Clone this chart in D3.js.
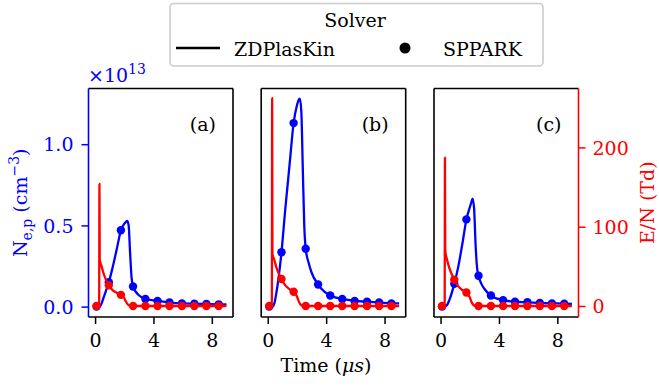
<!DOCTYPE html>
<html>
<head>
<meta charset="utf-8">
<script src="https://cdn.jsdelivr.net/npm/d3@7"></script>
<style>
  html, body { margin: 0; padding: 0; background: #fff; }
  svg { display: block; }
  svg text { font-family: "DejaVu Serif", serif; }
</style>
</head>
<body>
<svg id="chart" width="659" height="388"></svg>
<script>
// ---------------- data ----------------
const panelLabels = ["(a)", "(b)", "(c)"];
const xTicks = [0, 4, 8];
const neTicks = [0.0, 0.5, 1.0];
const enTicks = [0, 100, 200];

// time grid of the ZDPlasKin curves (µs)
const lineTime = [0, 0.25, 0.28, 0.3, 0.32, 0.45, 0.6, 0.94, 1.2, 1.5, 1.77, 2.0, 2.1, 2.2, 2.3, 2.4, 2.5, 2.6, 2.8, 3.0, 3.45, 4.28, 5.1, 5.95, 6.8, 7.63, 8.47, 9.0];
// electron density (x1e13 cm^-3), ZDPlasKin
const neLineA = [0, 0, 0, 0, 0, 0.02, 0.06, 0.15, 0.24, 0.36, 0.47, 0.51, 0.52, 0.527, 0.5, 0.33, 0.18, 0.124, 0.09, 0.07, 0.047, 0.035, 0.025, 0.02, 0.018, 0.016, 0.014, 0.013];
const neLineB = [0, 0, 0, 0, 0, 0.02, 0.09, 0.335, 0.6, 0.88, 1.13, 1.24, 1.27, 1.28, 1.2, 0.85, 0.5, 0.356, 0.27, 0.21, 0.136, 0.068, 0.047, 0.035, 0.03, 0.025, 0.02, 0.02];
const neLineC = [0, 0, 0, 0, 0, 0.01, 0.04, 0.14, 0.24, 0.39, 0.537, 0.61, 0.64, 0.665, 0.6, 0.38, 0.24, 0.19, 0.14, 0.11, 0.068, 0.04, 0.03, 0.027, 0.022, 0.02, 0.018, 0.016];
// reduced field E/N (Td), ZDPlasKin
const enLineA = [0, 0, 0, 154, 58, 50, 40, 26, 20, 16.5, 14, 10, 6, 3, 1, 0, 0, 0, 0, 0, 0, 0, 0, 0, 0, 0, 0, 0];
const enLineB = [0, 0, 0, 262, 66, 58, 48, 34, 26, 21, 18, 12, 7, 3, 1, 0, 0, 0, 0, 0, 0, 0, 0, 0, 0, 0, 0, 0];
const enLineC = [0, 0, 0, 187, 70, 58, 48, 33, 25, 20, 17, 11, 6, 2.5, 0.5, 0, 0, 0, 0, 0, 0, 0, 0, 0, 0, 0, 0, 0];

// SPPARK samples
const markerTime = [0.1, 0.94, 1.77, 2.6, 3.45, 4.28, 5.1, 5.95, 6.8, 7.63, 8.47];
const neDotsA = [0, 0.15, 0.47, 0.124, 0.047, 0.035, 0.025, 0.02, 0.018, 0.016, 0.014];
const neDotsB = [0, 0.335, 1.13, 0.356, 0.136, 0.068, 0.047, 0.035, 0.03, 0.025, 0.02];
const neDotsC = [0, 0.14, 0.537, 0.19, 0.068, 0.04, 0.03, 0.027, 0.022, 0.02, 0.018];
const enDotsA = [0, 26, 14, 0, 0, 0, 0, 0, 0, 0, 0];
const enDotsB = [0, 34, 18, 0, 0, 0, 0, 0, 0, 0, 0];
const enDotsC = [0, 33, 17, 0, 0, 0, 0, 0, 0, 0, 0];

const neLines = [neLineA, neLineB, neLineC];
const enLines = [enLineA, enLineB, enLineC];
const neDots = [neDotsA, neDotsB, neDotsC];
const enDots = [enDotsA, enDotsB, enDotsC];

// ---------------- layout ----------------
const BLUE = "#0000ff", RED = "#ff0000";
const FONT = 19;
const FF = "'DejaVu Serif', serif";
const svg = d3.select("#chart");
const yTop = 88.5, yBot = 317;
const panelLeft = [88.5, 261.2, 434];
const panelW = 144.5;

const yNe = d3.scaleLinear().domain([-0.064, 1.343]).range([yBot, yTop]);
const yEn = d3.scaleLinear().domain([-13.9, 274.3]).range([yBot, yTop]);

function styleAxis(g, color) {
  g.attr("font-family", FF).attr("font-size", FONT);
  g.select(".domain").remove();
  g.selectAll(".tick line").attr("stroke", color).attr("stroke-width", 1.5);
  g.selectAll(".tick text").attr("fill", color).style("font-family", FF).style("font-size", FONT + "px");
}

panelLabels.forEach((lab, i) => {
  const x = d3.scaleLinear().domain([-0.45, 9.45]).range([panelLeft[i], panelLeft[i] + panelW]);
  const g = svg.append("g");

  // bottom axis
  const gx = g.append("g").attr("transform", `translate(0,${yBot})`)
    .call(d3.axisBottom(x).tickValues(xTicks).tickFormat(d3.format("d")).tickSize(7).tickPadding(9));
  styleAxis(gx, "#000");
  gx.selectAll(".tick text").attr("dy", "0.75em");

  const clipId = "clip" + i;
  svg.append("clipPath").attr("id", clipId).append("rect")
    .attr("x", panelLeft[i]).attr("y", yTop).attr("width", panelW).attr("height", yBot - yTop);
  const plot = g.append("g").attr("clip-path", `url(#${clipId})`);

  // Ne line + markers
  const neLine = d3.line().x((d, k) => x(lineTime[k])).y(d => yNe(d)).curve(d3.curveMonotoneX);
  plot.append("path").datum(neLines[i]).attr("d", neLine)
    .attr("fill", "none").attr("stroke", BLUE).attr("stroke-width", 2.3).attr("stroke-linejoin", "round");
  plot.selectAll(".nd").data(neDots[i]).join("circle")
    .attr("cx", (d, k) => x(markerTime[k])).attr("cy", d => yNe(d)).attr("r", 4.2).attr("fill", BLUE);

  // E/N line + markers
  const enLine = d3.line().x((d, k) => x(lineTime[k])).y(d => yEn(d)).curve(d3.curveMonotoneX);
  plot.append("path").datum(enLines[i]).attr("d", enLine)
    .attr("fill", "none").attr("stroke", RED).attr("stroke-width", 2.3).attr("stroke-linejoin", "round");
  plot.selectAll(".ed").data(enDots[i]).join("circle")
    .attr("cx", (d, k) => x(markerTime[k])).attr("cy", d => yEn(d)).attr("r", 4.2).attr("fill", RED);

  // frame
  const L = panelLeft[i], R = panelLeft[i] + panelW;
  const sw = 1.6;
  g.append("line").attr("x1", L).attr("x2", R).attr("y1", yTop).attr("y2", yTop).attr("stroke", "#000").attr("stroke-width", sw);
  g.append("line").attr("x1", L).attr("x2", R).attr("y1", yBot).attr("y2", yBot).attr("stroke", "#000").attr("stroke-width", sw);
  g.append("line").attr("x1", L).attr("x2", L).attr("y1", yTop).attr("y2", yBot).attr("stroke", i === 0 ? BLUE : "#000").attr("stroke-width", sw);
  g.append("line").attr("x1", R).attr("x2", R).attr("y1", yTop).attr("y2", yBot).attr("stroke", i === 2 ? RED : "#000").attr("stroke-width", sw);

  // panel label
  g.append("text").attr("x", R - 17).attr("y", 131).attr("text-anchor", "end")
    .attr("font-size", FONT).attr("fill", "#000").text(lab);

  if (i === 0) {
    const gy = g.append("g").attr("transform", `translate(${L},0)`)
      .call(d3.axisLeft(yNe).tickValues(neTicks).tickFormat(d3.format(".1f")).tickSize(7).tickPadding(8));
    styleAxis(gy, BLUE);
    gy.selectAll(".tick text").attr("dy", "0.35em");
  }
  if (i === 2) {
    const gy2 = g.append("g").attr("transform", `translate(${R},0)`)
      .call(d3.axisRight(yEn).tickValues(enTicks).tickFormat(d3.format("d")).tickSize(7).tickPadding(7));
    styleAxis(gy2, RED);
    gy2.selectAll(".tick text").attr("dy", "0.35em");
  }
});

// offset text x10^13
const off = svg.append("text").attr("x", 88).attr("y", 82).attr("fill", BLUE).attr("font-size", FONT);
off.append("tspan").text("×10");
off.append("tspan").attr("dy", -8).attr("font-size", 14).text("13");

// left y label
const yl = svg.append("text").attr("transform", `translate(27,${(yTop + yBot) / 2}) rotate(-90)`)
  .attr("text-anchor", "middle").attr("fill", BLUE).attr("font-size", FONT);
yl.append("tspan").text("N");
yl.append("tspan").attr("dy", 5).attr("font-size", 14).text("e,p");
yl.append("tspan").attr("dy", -5).text(" (cm");
yl.append("tspan").attr("dy", -8).attr("font-size", 14).text("−3");
yl.append("tspan").attr("dy", 8).text(")");

// right y label
svg.append("text").attr("transform", `translate(654,${(yTop + yBot) / 2}) rotate(-90)`)
  .attr("text-anchor", "middle").attr("fill", RED).attr("font-size", FONT).text("E/N (Td)");

// x label
const xl = svg.append("text").attr("x", 326).attr("y", 372).attr("text-anchor", "middle")
  .attr("fill", "#000").attr("font-size", FONT);
xl.append("tspan").text("Time (");
xl.append("tspan").attr("font-style", "italic").text("μs");
xl.append("tspan").text(")");

// legend
const lg = svg.append("g");
lg.append("rect").attr("x", 170).attr("y", 3.5).attr("width", 373).attr("height", 62.5).attr("rx", 4)
  .attr("fill", "#fff").attr("stroke", "#cccccc").attr("stroke-width", 1.6);
lg.append("text").attr("x", 355).attr("y", 27).attr("text-anchor", "middle").attr("font-size", FONT).text("Solver");
lg.append("line").attr("x1", 176).attr("x2", 220).attr("y1", 48).attr("y2", 48).attr("stroke", "#000").attr("stroke-width", 2.4);
lg.append("text").attr("x", 234).attr("y", 56).attr("font-size", FONT).text("ZDPlasKin");
lg.append("circle").attr("cx", 405).attr("cy", 48).attr("r", 5.5).attr("fill", "#000");
lg.append("text").attr("x", 443).attr("y", 56).attr("font-size", FONT).text("SPPARK");
</script>
</body>
</html>
